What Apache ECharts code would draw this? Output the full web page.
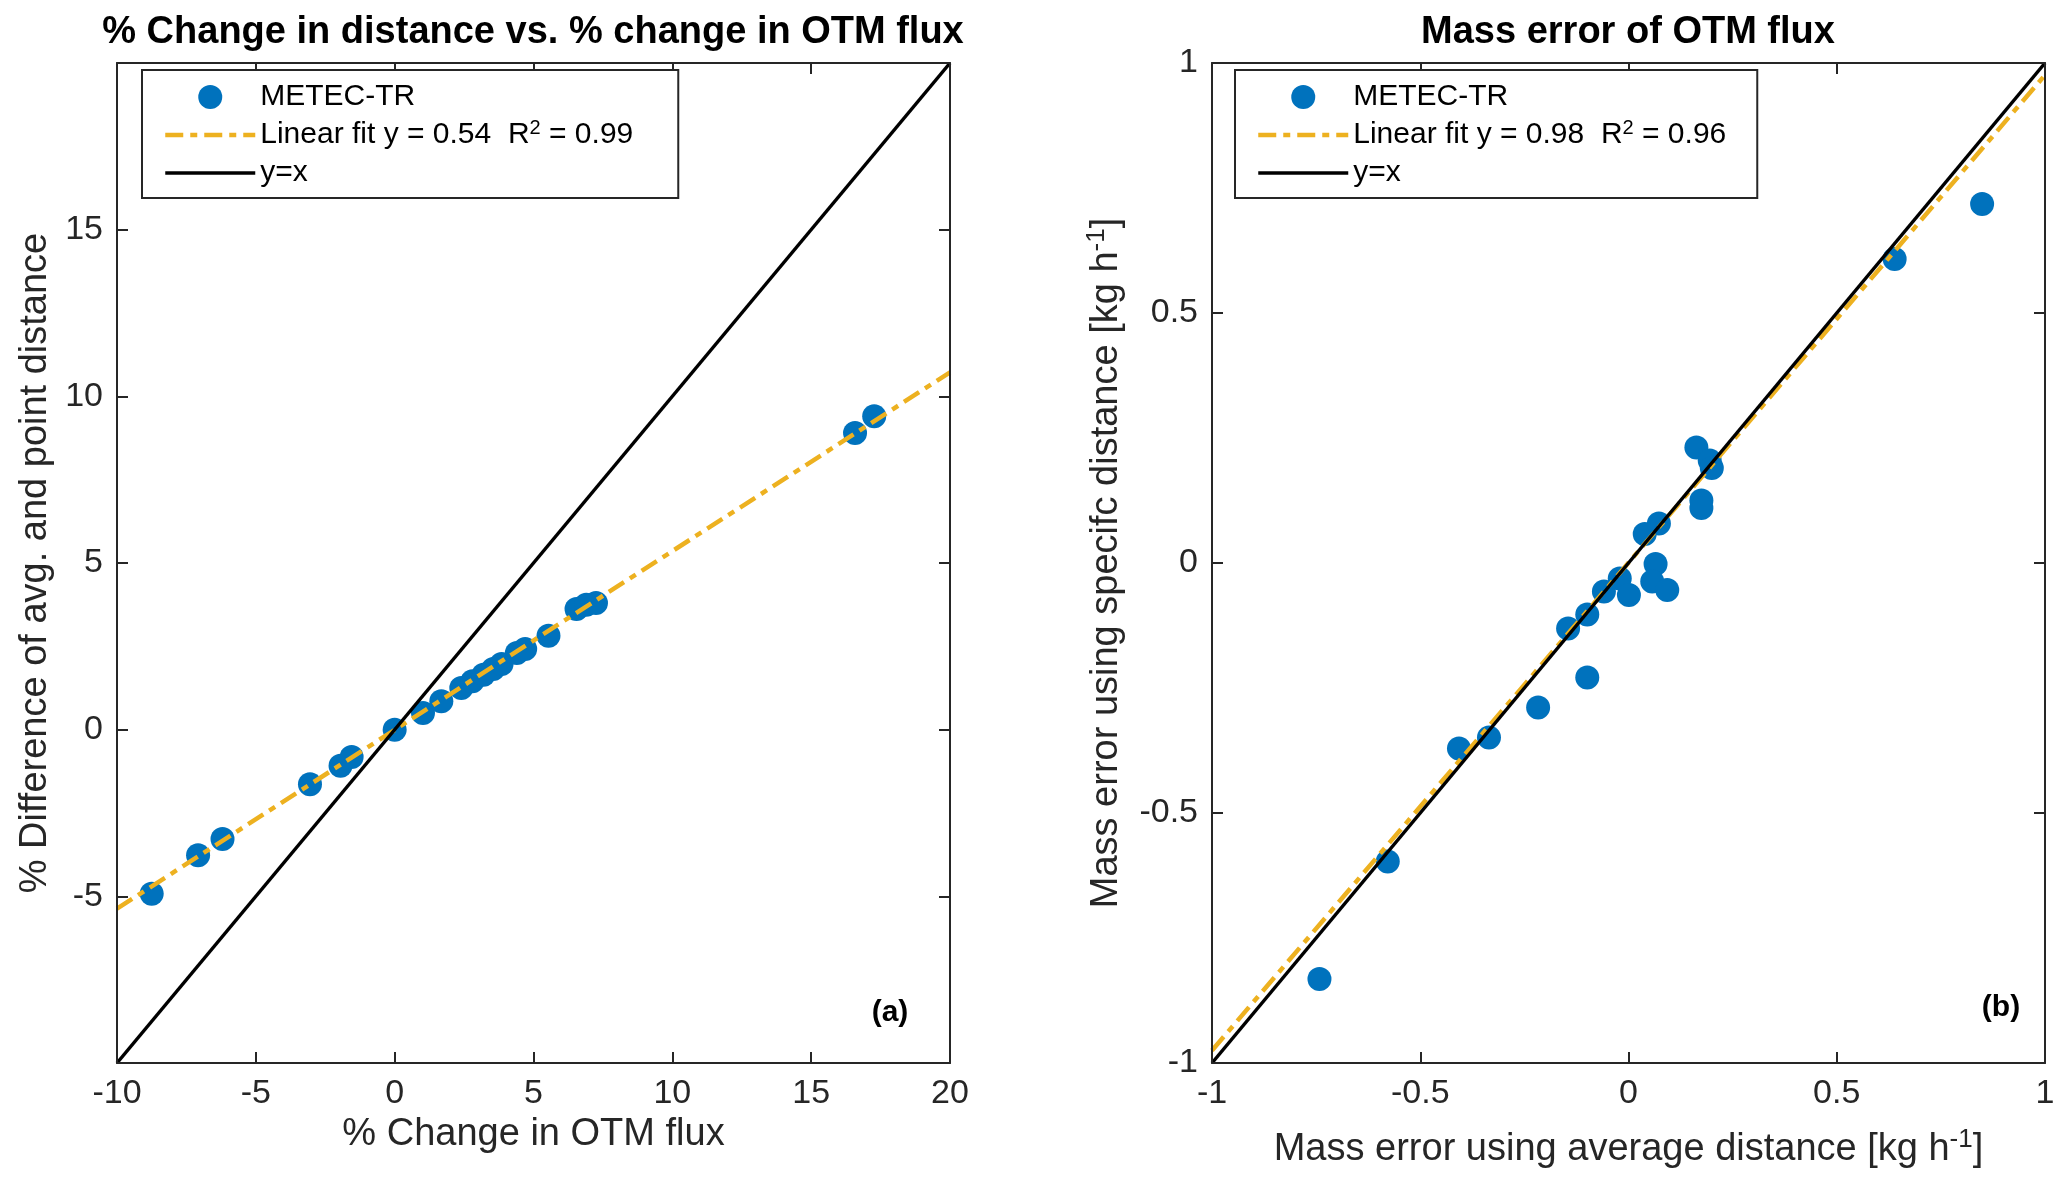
<!DOCTYPE html>
<html>
<head>
<meta charset="utf-8">
<script src="https://cdn.jsdelivr.net/npm/echarts@6/dist/echarts.min.js"></script>
<style>html,body{margin:0;padding:0;background:#fff;}#c{width:2067px;height:1187px;}</style>
</head>
<body>
<div id="c"></div>
<script>
// ---- Panel (a): % change in OTM flux vs % difference of distance ----
const fluxChange = [-8.75, -7.08, -6.2, -3.05, -1.95, -1.55, 0.0, 1.02, 1.68, 2.4, 2.8, 3.2, 3.55, 3.85, 4.4, 4.7, 5.54, 6.55, 6.9, 7.25, 16.58, 17.27];
const distDiff   = [-4.92, -3.77, -3.28, -1.64, -1.08, -0.82, 0.0, 0.5, 0.85, 1.25, 1.45, 1.65, 1.82, 1.97, 2.3, 2.42, 2.82, 3.62, 3.75, 3.8, 8.9, 9.4];
const fitA = [[-10, -5.37], [20, 10.72]];
const identA = [[-10, -10], [20, 20]];
const xTicksA = [-10, -5, 0, 5, 10, 15, 20];
const yTicksA = [-5, 0, 5, 10, 15];

// ---- Panel (b): mass error (avg distance) vs mass error (specific distance) ----
const avgDistErr  = [0.163, 0.195, 0.2, 0.175, 0.175, 0.039, 0.073, 0.065, 0.057, 0.093, -0.021, 0.001, -0.059, -0.099, -0.145, -0.099, -0.217, -0.335, -0.407, -0.578, -0.742, 0.639, 0.849];
const specDistErr = [0.231, 0.205, 0.19, 0.125, 0.11, 0.058, 0.079, -0.002, -0.037, -0.054, -0.031, -0.064, -0.057, -0.103, -0.131, -0.229, -0.289, -0.349, -0.371, -0.597, -0.832, 0.608, 0.718];
const fitB = [[-1, -0.975], [1, 0.976]];
const identB = [[-1, -1], [1, 1]];
const xTicksB = [-1, -0.5, 0, 0.5, 1];
const yTicksB = [-1, -0.5, 0, 0.5, 1];

const nameScatter = 'METEC-TR';
const nameFitA = 'Linear fit y = 0.54  R2 = 0.99';
const nameFitB = 'Linear fit y = 0.98  R2 = 0.96';
const nameIdent = 'y=x';

const FONT = "'Liberation Sans', Arial, Helvetica, sans-serif";
const AX = '#262626';
const BLUE = '#0072BD';
const ORANGE = '#EDB120';
const DASHDOT = [18, 7, 7, 7];

function mkAxis(o) {
  const a = {
    type: 'value', gridIndex: o.g, position: o.pos,
    min: o.min, max: o.max, interval: o.int,
    axisLine: { show: true, onZero: false, lineStyle: { color: AX, width: 2 } },
    axisTick: { show: true, inside: true, length: 11, lineStyle: { color: AX, width: 2 } },
    splitLine: { show: false },
    axisLabel: { show: !!o.ticks, margin: 14, color: AX, fontSize: 34, fontFamily: FONT, showMinLabel: true, showMaxLabel: true },
    name: o.name || '', nameLocation: 'middle', nameGap: o.gap || 0,
    nameTextStyle: Object.assign({ color: AX, fontSize: 38, fontFamily: FONT }, o.nts || {}),
    z: 5
  };
  if (o.ticks) {
    const t = o.ticks;
    a.axisLabel.formatter = v => t.some(k => Math.abs(k - v) < 1e-9) ? String(v) : '';
  }
  return a;
}

const supRich = { sup: { fontSize: 26, lineHeight: 26, verticalAlign: 'top', color: AX, fontFamily: FONT } };

const zip = (a, b) => a.map((x, i) => [x, b[i]]);

const chart = echarts.init(document.getElementById('c'), null, { renderer: 'canvas' });

function legendFor(left, fitName, padRight) {
  return {
    orient: 'vertical', left: left, top: 70,
    padding: [10, padRight, 8, 21],
    itemWidth: 90, itemHeight: 24, itemGap: 4,
    borderColor: AX, borderWidth: 2, backgroundColor: '#fff',
    selectedMode: false,
    data: [
      { name: nameScatter, icon: 'circle' },
      { name: fitName, itemStyle: { opacity: 0, borderWidth: 0 }, lineStyle: { width: 4.5, type: DASHDOT, color: ORANGE, opacity: 1 } },
      { name: nameIdent, itemStyle: { opacity: 0, borderWidth: 0 }, lineStyle: { width: 3.5, color: '#000', opacity: 1 } }
    ],
    formatter: n => n.replace('R2', 'R{sup|2}'),
    textStyle: {
      fontSize: 30, lineHeight: 34, color: '#000', fontFamily: FONT,
      rich: { sup: { fontSize: 20, lineHeight: 20, verticalAlign: 'top', color: '#000', fontFamily: FONT } }
    },
    z: 10
  };
}

chart.setOption({
  animation: false,
  backgroundColor: '#fff',
  title: [
    { text: '% Change in distance vs. % change in OTM flux', left: 533, top: 14, textAlign: 'center', padding: 0,
      textStyle: { fontSize: 38, fontWeight: 'bold', color: '#000', fontFamily: FONT } },
    { text: 'Mass error of OTM flux', left: 1628, top: 14, textAlign: 'center', padding: 0,
      textStyle: { fontSize: 38, fontWeight: 'bold', color: '#000', fontFamily: FONT } }
  ],
  grid: [
    { left: 117, top: 63, width: 833, height: 1000, containLabel: false, outerBoundsMode: 'none' },
    { left: 1212, top: 63, width: 833, height: 1000, containLabel: false, outerBoundsMode: 'none' }
  ],
  xAxis: [
    mkAxis({ g: 0, pos: 'bottom', min: -10, max: 20, int: 5, ticks: xTicksA, name: '% Change in OTM flux', gap: 53 }),
    mkAxis({ g: 0, pos: 'top', min: -10, max: 20, int: 5 }),
    mkAxis({ g: 1, pos: 'bottom', min: -1, max: 1, int: 0.5, ticks: xTicksB,
      name: 'Mass error using average distance [kg h{sup|-1}]', gap: 64, nts: { lineHeight: 46, rich: supRich } }),
    mkAxis({ g: 1, pos: 'top', min: -1, max: 1, int: 0.5 })
  ],
  yAxis: [
    mkAxis({ g: 0, pos: 'left', min: -10, max: 20, int: 5, ticks: yTicksA, name: '% Difference of avg. and point distance', gap: 62 }),
    mkAxis({ g: 0, pos: 'right', min: -10, max: 20, int: 5 }),
    mkAxis({ g: 1, pos: 'left', min: -1, max: 1, int: 0.5, ticks: yTicksB,
      name: 'Mass error using specifc distance [kg h{sup|-1}]', gap: 82, nts: { lineHeight: 46, rich: supRich } }),
    mkAxis({ g: 1, pos: 'right', min: -1, max: 1, int: 0.5 })
  ],
  legend: [legendFor(142, nameFitA, 45), legendFor(1235, nameFitB, 31)],
  series: [
    { type: 'scatter', name: nameScatter, xAxisIndex: 0, yAxisIndex: 0, data: zip(fluxChange, distDiff),
      symbol: 'circle', symbolSize: 24, itemStyle: { color: BLUE, opacity: 1 }, z: 2 },
    { type: 'line', name: nameFitA, xAxisIndex: 0, yAxisIndex: 0, data: fitA, symbol: 'none', showSymbol: false,
      lineStyle: { color: ORANGE, width: 4.5, type: DASHDOT }, itemStyle: { color: ORANGE }, z: 3 },
    { type: 'line', name: nameIdent, xAxisIndex: 0, yAxisIndex: 0, data: identA, symbol: 'none', showSymbol: false,
      lineStyle: { color: '#000', width: 3.5 }, itemStyle: { color: '#000' }, z: 4 },

    { type: 'scatter', name: nameScatter, xAxisIndex: 2, yAxisIndex: 2, data: zip(avgDistErr, specDistErr),
      symbol: 'circle', symbolSize: 24, itemStyle: { color: BLUE, opacity: 1 }, z: 2 },
    { type: 'line', name: nameFitB, xAxisIndex: 2, yAxisIndex: 2, data: fitB, symbol: 'none', showSymbol: false,
      lineStyle: { color: ORANGE, width: 4.5, type: DASHDOT }, itemStyle: { color: ORANGE }, z: 3 },
    { type: 'line', name: nameIdent, xAxisIndex: 2, yAxisIndex: 2, data: identB, symbol: 'none', showSymbol: false,
      lineStyle: { color: '#000', width: 3.5 }, itemStyle: { color: '#000' }, z: 4 }
  ],
  graphic: [
    { type: 'text', z: 20, style: { text: '(a)', x: 890, y: 1013, align: 'center', verticalAlign: 'middle',
      fontSize: 30, fontWeight: 'bold', fontFamily: FONT, fill: '#000' } },
    { type: 'text', z: 20, style: { text: '(b)', x: 2001, y: 1008, align: 'center', verticalAlign: 'middle',
      fontSize: 30, fontWeight: 'bold', fontFamily: FONT, fill: '#000' } }
  ]
});
</script>
</body>
</html>
